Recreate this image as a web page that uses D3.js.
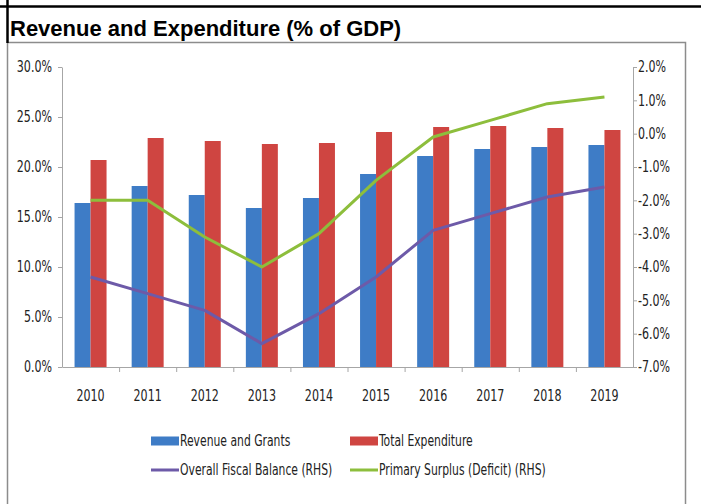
<!DOCTYPE html>
<html>
<head>
<meta charset="utf-8">
<script src="https://cdn.jsdelivr.net/npm/d3@7"></script>
<style>
  html, body { margin: 0; padding: 0; background: #fff; }
  svg { display: block; }
  .axis text { font-family: "Liberation Sans Narrow", "DejaVu Sans Condensed", "Arial Narrow", sans-serif; font-size: 15px; fill: #222; }
  .axis path, .axis line { stroke: #a6a6a6; }
  .legend text { font-family: "Liberation Sans Narrow", "DejaVu Sans Condensed", "Arial Narrow", sans-serif; font-size: 15px; fill: #222; }
</style>
</head>
<body>
<svg id="chart" width="701" height="504"></svg>
<script>
// Fiscal indicators, 2010-2019
const years = ["2010", "2011", "2012", "2013", "2014", "2015", "2016", "2017", "2018", "2019"];
const revenueGrants = [16.4, 18.1, 17.2, 15.9, 16.9, 19.3, 21.1, 21.8, 22.0, 22.2];      // % of GDP
const totalExpenditure = [20.7, 22.9, 22.6, 22.3, 22.4, 23.5, 24.0, 24.1, 23.9, 23.7];  // % of GDP
const overallBalance = [-4.3, -4.8, -5.3, -6.3, -5.4, -4.3, -2.9, -2.4, -1.9, -1.6];    // RHS
const primarySurplus = [-2.0, -2.0, -3.1, -4.0, -3.0, -1.4, -0.1, 0.4, 0.9, 1.1];       // RHS
const leftTicks = [0, 5, 10, 15, 20, 25, 30];
const rightTicks = [-7, -6, -5, -4, -3, -2, -1, 0, 1, 2];

const svg = d3.select("#chart");

// Frame and title cell
svg.append("rect").attr("x", 7.5).attr("y", 42.5).attr("width", 678).attr("height", 470)
  .attr("fill", "#fff").attr("stroke", "#8c8c8c").attr("stroke-width", 1.5);
svg.append("line").attr("x1", 0).attr("x2", 701).attr("y1", 6.5).attr("y2", 6.5)
  .attr("stroke", "#000").attr("stroke-width", 2.5);
svg.append("line").attr("x1", 7.5).attr("x2", 7.5).attr("y1", 0).attr("y2", 43)
  .attr("stroke", "#000").attr("stroke-width", 2.5);
svg.append("text").attr("x", 10).attr("y", 35.5)
  .attr("font-family", "Liberation Sans, Arial, sans-serif").attr("font-weight", "bold")
  .attr("font-size", 22).attr("fill", "#000")
  .text("Revenue and Expenditure (% of GDP)");

// Scales
const plot = { left: 62, right: 633, top: 67, bottom: 367 };
const x = d3.scaleBand().domain(years).range([plot.left, plot.right]).padding(0);
const xSeries = d3.scaleBand().domain(["rev", "exp"]).range([0, x.bandwidth()]).paddingOuter(0.785).paddingInner(0);
const yL = d3.scaleLinear().domain([0, 30]).range([plot.bottom, plot.top]);
const yR = d3.scaleLinear().domain([-7, 2]).range([plot.bottom, plot.top]);

const colors = { rev: "#3e7cc6", exp: "#cf4541", bal: "#6d5aa8", prim: "#8dbe3c" };

// Bars
const barData = [];
years.forEach((yr, i) => {
  barData.push({ yr, key: "rev", v: revenueGrants[i] });
  barData.push({ yr, key: "exp", v: totalExpenditure[i] });
});
svg.append("g").selectAll("rect").data(barData).join("rect")
  .attr("x", d => x(d.yr) + xSeries(d.key))
  .attr("width", xSeries.bandwidth())
  .attr("y", d => yL(d.v))
  .attr("height", d => yL(0) - yL(d.v))
  .attr("fill", d => colors[d.key]);

// Axes
const fmt = d => d.toFixed(1) + "%";
svg.append("g").attr("class", "axis").attr("transform", `translate(${plot.left},0)`)
  .call(d3.axisLeft(yL).tickValues(leftTicks).tickFormat(fmt).tickSize(4).tickSizeOuter(0).tickPadding(6));
svg.append("g").attr("class", "axis").attr("transform", `translate(${plot.right},0)`)
  .call(d3.axisRight(yR).tickValues(rightTicks).tickFormat(fmt).tickSize(4).tickSizeOuter(0).tickPadding(1));
const gB = svg.append("g").attr("class", "axis").attr("transform", `translate(0,${plot.bottom})`)
  .call(d3.axisBottom(x).tickSize(0).tickSizeOuter(0).tickPadding(23));
// category boundary ticks
gB.selectAll(".boundary").data(years.slice(1)).join("line").attr("class", "boundary")
  .attr("x1", d => x(d) + 0.5).attr("x2", d => x(d) + 0.5)
  .attr("y1", 0).attr("y2", 5).attr("stroke", "#a6a6a6");

// Lines on the right-hand scale
const line = d3.line().x((d, i) => x(years[i]) + x.bandwidth() / 2).y(d => yR(d));
svg.append("path").datum(overallBalance).attr("d", line)
  .attr("fill", "none").attr("stroke", colors.bal).attr("stroke-width", 3).attr("stroke-linejoin", "round");
svg.append("path").datum(primarySurplus).attr("d", line)
  .attr("fill", "none").attr("stroke", colors.prim).attr("stroke-width", 3).attr("stroke-linejoin", "round");

// Legend
const legend = svg.append("g").attr("class", "legend");
const items = [
  { label: "Revenue and Grants", key: "rev", type: "bar", x: 151, y: 441 },
  { label: "Total Expenditure", key: "exp", type: "bar", x: 350, y: 441 },
  { label: "Overall Fiscal Balance (RHS)", key: "bal", type: "line", x: 151, y: 470 },
  { label: "Primary Surplus (Deficit) (RHS)", key: "prim", type: "line", x: 350, y: 470 }
];
items.forEach(it => {
  if (it.type === "bar") {
    legend.append("rect").attr("x", it.x).attr("y", it.y - 4.5).attr("width", 28).attr("height", 9)
      .attr("fill", colors[it.key]);
  } else {
    legend.append("line").attr("x1", it.x).attr("x2", it.x + 28).attr("y1", it.y).attr("y2", it.y)
      .attr("stroke", colors[it.key]).attr("stroke-width", 3);
  }
  legend.append("text").attr("x", it.x + 29).attr("y", it.y).attr("dy", "0.35em").text(it.label);
});

// Narrow lettering: squeeze the condensed face horizontally
function squeeze(sel, k) {
  sel.each(function () {
    const w = this.getComputedTextLength();
    this.setAttribute("textLength", (w * k).toFixed(1));
    this.setAttribute("lengthAdjust", "spacingAndGlyphs");
  });
}
squeeze(svg.selectAll(".axis text"), 0.82);
squeeze(svg.selectAll(".legend text"), 0.80);
</script>
</body>
</html>
